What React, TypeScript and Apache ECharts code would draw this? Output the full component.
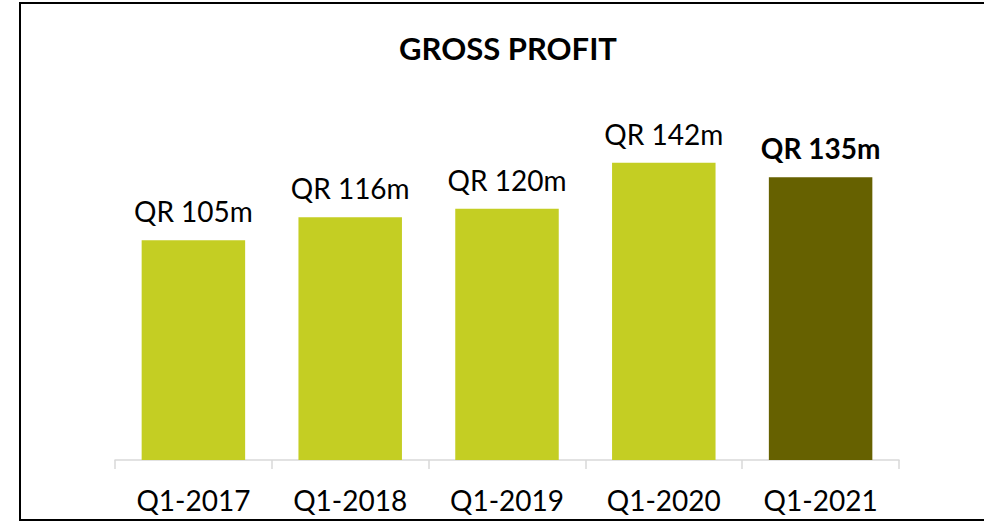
import React, { useEffect, useRef } from "react";
import * as echarts from "echarts";

const categories = ["Q1-2017", "Q1-2018", "Q1-2019", "Q1-2020", "Q1-2021"];
const values = [105, 116, 120, 142, 135];
const labels = ["QR 105m", "QR 116m", "QR 120m", "QR 142m", "QR 135m"];
const barColors = ["#C4CE23", "#C4CE23", "#C4CE23", "#C4CE23", "#666100"];
const boldFlags = [false, false, false, false, true];

const FONT = "Lato, 'Noto Sans', sans-serif";

export default function App() {
  const ref = useRef<HTMLDivElement>(null);
  useEffect(() => {
    if (!ref.current) return;
    const chart = echarts.init(ref.current, null, { renderer: "svg" });
    chart.setOption({
      animation: false,
      backgroundColor: "#ffffff",
      title: {
        text: "GROSS PROFIT",
        left: 503,
        textAlign: "center",
        top: 27,
        textStyle: { fontFamily: FONT, fontSize: 31, fontWeight: "bold", color: "#000" },
      },
      graphic: [
        {
          type: "rect",
          shape: { x: 20, y: 3, width: 990, height: 517 },
          style: { fill: "none", stroke: "#000", lineWidth: 2 },
          silent: true,
        },
      ],
      grid: { left: 115, right: 85, top: 125, bottom: 62 },
      xAxis: {
        type: "category",
        data: categories,
        axisLine: { lineStyle: { color: "#d9d9d9", width: 1.5 } },
        axisTick: { show: true, length: 9, lineStyle: { color: "#d9d9d9", width: 1.5 } },
        axisLabel: { fontFamily: FONT, fontSize: 28, color: "#000", margin: 26 },
      },
      yAxis: { type: "value", min: 0, max: 160, show: false, splitLine: { show: false } },
      series: [
        {
          type: "bar",
          barCategoryGap: "34%",
          data: values.map((v, i) => ({
            value: v,
            itemStyle: { color: barColors[i] },
            label: {
              show: true,
              position: "top",
              distance: 15,
              formatter: labels[i],
              fontFamily: FONT,
              fontSize: 28,
              fontWeight: boldFlags[i] ? "bold" : "normal",
              color: "#000",
            },
          })),
        },
      ],
    });
    return () => chart.dispose();
  }, []);
  return (
    <div
      ref={ref}
      style={{ position: "fixed", left: 0, top: 0, width: 984, height: 522 }}
    />
  );
}
